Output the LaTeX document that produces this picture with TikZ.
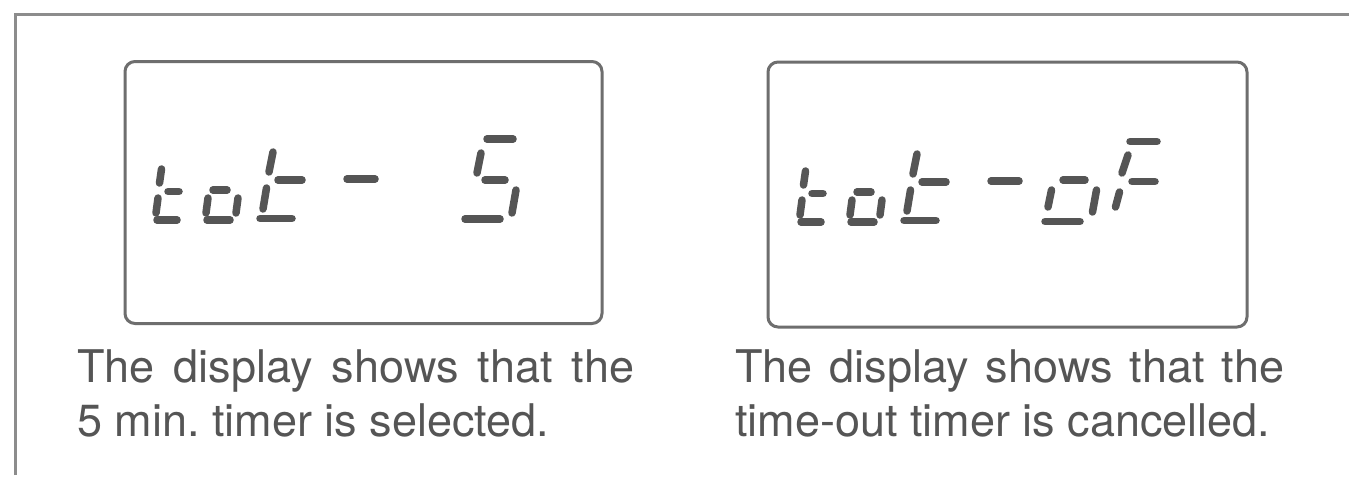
\documentclass[tikz,border=0pt]{standalone}
\usepackage{fontspec}
\setmainfont{TeX Gyre Heros}
\usepackage{tikz}
\usetikzlibrary{positioning}
\definecolor{lcdSeg}{HTML}{555555}
\definecolor{lcdLine}{HTML}{6E6E6E}
\definecolor{frameLine}{HTML}{8C8C8C}
\definecolor{capText}{HTML}{555555}
\tikzset{
  frame/.style={line width=3pt, draw=frameLine},
  dispbox/.style={rounded corners=10pt, draw=lcdLine, line width=3pt, fill=white, inner sep=0pt},
  seg/.style={line width=7.5pt, line cap=round, draw=lcdSeg},
  caption/.style={anchor=north west, inner sep=0pt, align=justify, text=capText, font=\fontsize{45}{54}\selectfont\frenchspacing}
}

\begin{document}
\begin{tikzpicture}[x=1pt,y=-1pt]
  \useasboundingbox (0,0) rectangle (1349,479);
  \fill[white] (0,0) rectangle (1349,479);
  \draw[frame] (15,475) |- (1349,14);

  % the two displays
  \node[dispbox, minimum width=477pt, minimum height=262pt] (dispL) at (363.5,192.5) {};
  \node[dispbox, minimum width=479pt, minimum height=265pt] (dispR) at (1007.5,194.5) {};

  % "tot-" on both displays
  \foreach \dx/\dy in {0/0,644/2}{
    \begin{scope}[shift={(\dx,\dy)}]
      \foreach \xa/\ya/\xb/\yb in {161.5/169/159.5/183, 168/191.5/179/191.5, 158/198/156/213, 157/220/177/220,
                                   213/190/227/190, 208/198/206/213, 238/198/236/213, 207/220/230/220,
                                   273/152/269/172, 278/180/302/180, 266.5/188/263/209, 260/218.5/292/218.5,
                                   347/179/375/179}
        \draw[seg] (\xa,\ya) -- (\xb,\yb);
    \end{scope}
  }
  % "5"
  \foreach \xa/\ya/\xb/\yb in {487/139/513/139, 481/153/477/173, 485/180/505/180, 516/190/512/213, 465/219/500/219}
    \draw[seg] (\xa,\ya) -- (\xb,\yb);
  % "oF"
  \foreach \xa/\ya/\xb/\yb in {1063/180/1085/180, 1051.5/190/1048/207, 1096.5/190/1092.5/212, 1045/221.5/1080/221.5,
                               1130/141.5/1157/141.5, 1128/155/1122/173, 1132/181.5/1155/181.5, 1119.5/192/1115.5/207}
    \draw[seg] (\xa,\ya) -- (\xb,\yb);

  \node[caption, text width=557pt] (capL) at (77,349) {The display shows that the\linebreak 5 min. timer is selected.};
  \node[caption, text width=549pt] (capR) at (735,349) {The display shows that the\linebreak time-out timer is cancelled.};
\end{tikzpicture}
\end{document}
